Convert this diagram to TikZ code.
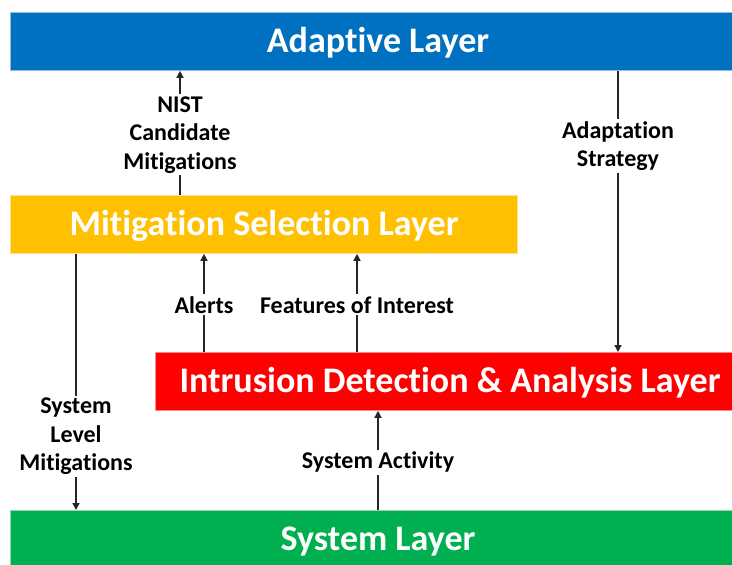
\documentclass[tikz,border=0pt]{standalone}
\usepackage{fontspec}
\setmainfont{Carlito}[Ligatures=NoCommon]
\usetikzlibrary{arrows.meta}
\definecolor{adaptblue}{HTML}{0070C0}
\definecolor{mitigyellow}{HTML}{FFC000}
\definecolor{idsred}{HTML}{FF0000}
\definecolor{sysgreen}{HTML}{00B050}
\definecolor{wire}{HTML}{262626}
\tikzset{
  layer/.style={draw=#1!45!white, line width=0.8pt, fill=#1, inner sep=0pt, anchor=north west},
  layertext/.style={text=white, font=\fontsize{36}{40}\selectfont\bfseries},
  flow/.style={draw=wire, line width=1.4pt, -{Triangle[length=7pt,width=7pt]}},
  flowlabel/.style={fill=white, text=black, align=center, inner sep=2pt, yshift=-2pt,
    font=\fontsize{24}{28.5}\selectfont\bfseries}
}
\begin{document}
\begin{tikzpicture}[x=1pt, y=-1pt]
\useasboundingbox (0,0) rectangle (732,565);
\fill[white] (0,0) rectangle (732,565);

% layers
\node[layer=adaptblue, minimum width=722pt, minimum height=58pt] (adapt) at (10,12) {};
\node[layertext] at (378,43) {Adaptive Layer};

\node[layer=mitigyellow, minimum width=507pt, minimum height=58pt] (mit) at (10,195) {};
\node[layertext] at (264,226) {Mitigation Selection Layer};

\node[layer=idsred, minimum width=577pt, minimum height=58pt] (ids) at (155,352) {};
\node[layertext] at (450,383) {Intrusion Detection \& Analysis Layer};

\node[layer=sysgreen, minimum width=722pt, minimum height=60pt] (sys) at (10,510) {};
\node[layertext] at (378,542) {System Layer};

% connector columns
\coordinate (cNist) at (180,0);
\coordinate (cStrat) at (618,0);
\coordinate (cAlert) at (204,0);
\coordinate (cFeat) at (357,0);
\coordinate (cSysMit) at (76,0);
\coordinate (cAct) at (378,0);

% connectors
\draw[flow] (mit.north -| cNist) -- node[flowlabel] {NIST\\Candidate\\Mitigations} (adapt.south -| cNist);
\draw[flow] (adapt.south -| cStrat) -- node[flowlabel, pos=0.26] {Adaptation\\Strategy} (ids.north -| cStrat);
\draw[flow] (ids.north -| cAlert) -- node[flowlabel] {Alerts} (mit.south -| cAlert);
\draw[flow] (ids.north -| cFeat) -- node[flowlabel] {Features of Interest} (mit.south -| cFeat);
\draw[flow] (mit.south -| cSysMit) -- node[flowlabel, pos=0.704] {System\\Level\\Mitigations} (sys.north -| cSysMit);
\draw[flow] (sys.north -| cAct) -- node[flowlabel] {System Activity} (ids.south -| cAct);
\end{tikzpicture}
\end{document}
